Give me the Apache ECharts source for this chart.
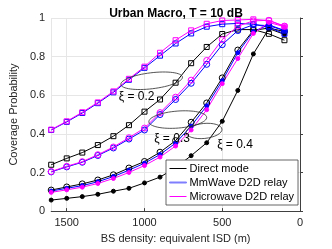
<!DOCTYPE html>
<html>
<head>
<meta charset="utf-8">
<script src="https://cdn.jsdelivr.net/npm/echarts@6/dist/echarts.min.js"></script>
<style>html,body{margin:0;padding:0;background:#fff}#c{width:332px;height:249px}</style>
</head>
<body>
<div id="c"></div>
<script>
// ---- data ----
var isd = [1600,1500,1400,1300,1200,1100,1000,900,800,700,600,500,400,300,200,100];
var direct02 = [0.240,0.273,0.303,0.342,0.388,0.445,0.515,0.578,0.665,0.766,0.850,0.917,0.940,0.940,0.918,0.885];
var direct03 = [0.109,0.125,0.141,0.161,0.188,0.223,0.257,0.305,0.365,0.460,0.560,0.690,0.834,0.936,0.948,0.930];
var direct04 = [0.057,0.066,0.075,0.087,0.103,0.118,0.146,0.176,0.225,0.287,0.354,0.465,0.625,0.814,0.945,0.915];
var mm02 = [0.420,0.462,0.508,0.559,0.615,0.680,0.742,0.805,0.868,0.920,0.955,0.968,0.972,0.968,0.952,0.918];
var mm03 = [0.203,0.229,0.253,0.288,0.327,0.373,0.420,0.500,0.578,0.662,0.760,0.862,0.935,0.965,0.960,0.935];
var mm04 = [0.104,0.118,0.132,0.152,0.179,0.212,0.248,0.293,0.352,0.440,0.545,0.675,0.820,0.930,0.965,0.935];
var mw02 = [0.422,0.465,0.512,0.563,0.620,0.685,0.748,0.820,0.885,0.936,0.970,0.987,0.990,0.993,0.987,0.956];
var mw03 = [0.205,0.232,0.256,0.292,0.332,0.380,0.430,0.510,0.590,0.678,0.780,0.888,0.958,0.985,0.988,0.958];
var mw04 = [0.097,0.110,0.124,0.143,0.169,0.200,0.236,0.280,0.337,0.420,0.525,0.660,0.790,0.920,0.977,0.955];
var legendNames = ['Direct mode','MmWave D2D relay','Microwave D2D relay'];
var xTicks = [0,500,1000,1500];
var yTicks = [0,0.2,0.4,0.6,0.8,1];
// annotations in data coordinates
var notes = [
  {label:'\u03be = 0.2', ex:954, ey:0.675, tx:1051, ty:0.593},
  {label:'\u03be = 0.3', ex:786, ey:0.474, tx:823, ty:0.375},
  {label:'\u03be = 0.4', ex:617, ey:0.415, tx:418, ty:0.344}
];

// ---- styles ----
var FONT = '"Liberation Sans", Arial, sans-serif';
var colors = ['#000000','#0000ff','#ff00ff'];
var ellSize = [[31,8,0.12],[29,8.5,0.08],[18,7.5,0.1]];

function pairs(v){ return isd.map(function(x,i){ return [x, v[i]]; }); }
function mk(name, v, color, symbol, size, filled){
  return {
    name: name, type:'line', data: pairs(v), symbol: symbol, symbolSize: size,
    showAllSymbol: true, animation:false,
    lineStyle:{color:color, width:1},
    itemStyle:{color: filled ? color : 'rgba(0,0,0,0)', borderColor: color, borderWidth: 1},
    emphasis:{disabled:true}
  };
}

var groups = [[direct02,direct03,direct04],[mm02,mm03,mm04],[mw02,mw03,mw04]];
var series = [];
groups.forEach(function(g, k){
  series.push(mk(legendNames[k], g[0], colors[k], 'rect', 5, false));
  series.push(mk(legendNames[k], g[1], colors[k], 'circle', 6, false));
  series.push(mk(legendNames[k], g[2], colors[k], 'circle', 4, true));
});

var chart = echarts.init(document.getElementById('c'), null, {renderer:'canvas'});
chart.setOption({
  animation:false,
  backgroundColor:'#fff',
  title:{text:'Urban Macro, T = 10 dB', left:171, top:3, textAlign:'center',
    textStyle:{fontFamily:FONT, fontSize:12, fontWeight:'bold', color:'#000'}},
  grid:{left:43.5, right:32, top:18, bottom:34.5},
  xAxis:{type:'value', min:0, max:1600, interval:500, inverse:true,
    name:'BS density: equivalent ISD (m)', nameLocation:'middle', nameGap:21,
    nameTextStyle:{fontFamily:FONT, fontSize:11, color:'#262626'},
    axisLine:{lineStyle:{color:'#404040'}},
    axisTick:{inside:true, length:3, lineStyle:{color:'#404040'}},
    axisLabel:{fontFamily:FONT, fontSize:11, color:'#262626', margin:6, showMaxLabel:false,
      formatter:function(v){ return xTicks.indexOf(v)>=0 ? String(v) : ''; }},
    splitLine:{show:true, lineStyle:{color:'#e6e6e6', width:1}}
  },
  yAxis:{type:'value', min:0, max:1, interval:0.2,
    name:'Coverage Probability', nameLocation:'middle', nameGap:27,
    nameTextStyle:{fontFamily:FONT, fontSize:11, color:'#262626'},
    axisLine:{show:true, lineStyle:{color:'#404040'}},
    axisTick:{show:true, inside:true, length:3, lineStyle:{color:'#404040'}},
    axisLabel:{fontFamily:FONT, fontSize:11, color:'#262626', margin:6,
      formatter:function(v){ var r=Math.round(v*10)/10; return (r===0||r===1)?String(r):r.toFixed(1); }},
    splitLine:{show:true, lineStyle:{color:'#e6e6e6', width:1}}
  },
  legend:{orient:'vertical', left:166, top:160, icon:'rect', itemWidth:17, itemHeight:1,
    itemGap:3, padding:[3,4,3,3], backgroundColor:'#fff', borderColor:'#404040', borderWidth:0.8,
    selectedMode:false,
    textStyle:{fontFamily:FONT, fontSize:11, color:'#000', padding:[0,0,0,-2]},
    data:[
      {name:legendNames[0], itemStyle:{color:'#000', borderWidth:0}},
      {name:legendNames[1], itemStyle:{color:'#7f7fff', borderColor:'#7f7fff', borderWidth:1}},
      {name:legendNames[2], itemStyle:{color:'#ff00ff', borderWidth:0}}
    ]},
  series: series
});

var g = [];
notes.forEach(function(n, k){
  var c = chart.convertToPixel({gridIndex:0}, [n.ex, n.ey]);
  var t = chart.convertToPixel({gridIndex:0}, [n.tx, n.ty]);
  g.push({type:'ellipse', x:c[0], y:c[1], rotation:ellSize[k][2], silent:true, z:50,
    shape:{cx:0, cy:0, rx:ellSize[k][0], ry:ellSize[k][1]},
    style:{fill:null, stroke:'#333', lineWidth:0.8}});
  g.push({type:'text', x:t[0], y:t[1], silent:true, z:60,
    style:{text:n.label, font:'12px '+FONT, fill:'#000', textAlign:'center', textVerticalAlign:'middle'}});
});
chart.setOption({graphic:g});
</script>
</body>
</html>
